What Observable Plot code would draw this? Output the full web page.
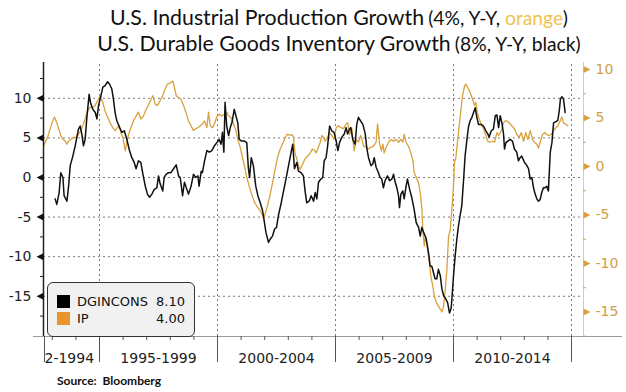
<!DOCTYPE html>
<html>
<head>
<meta charset="utf-8">
<script src="https://cdn.jsdelivr.net/npm/d3@7"></script>
<script src="https://cdn.jsdelivr.net/npm/@observablehq/plot@0.6"></script>
<style>
  html, body { margin: 0; padding: 0; background: #fff; }
  #wrap { position: relative; width: 626px; height: 392px; overflow: hidden; background: #fff; }
  .t { position: absolute; left: 52px; width: 574px; text-align: center; white-space: nowrap; font-family: Lato, "Open Sans", sans-serif; color: #111; height: 26px; line-height: 26px; }
  .big { font-size: 21.3px; }
  .small { font-size: 19.3px; }
  #plot { position: absolute; left: 0; top: 58px; }
  #legend { position: absolute; left: 47px; top: 282px; width: 146px; height: 53px; border: 1.5px solid #333; border-radius: 6px; background: #f1f1f1; font-family: "DejaVu Sans", sans-serif; font-size: 13px; color: #111; }
  .row { position: absolute; left: 0; width: 146px; height: 16px; line-height: 16px; }
  .sw { position: absolute; left: 9px; top: 1px; width: 13px; height: 13px; }
  .nm { position: absolute; left: 29px; }
  .vl { position: absolute; right: 9px; }
  #source { position: absolute; left: 57px; top: 373px; font-family: Lato, sans-serif; font-weight: bold; font-size: 12px; color: #111; white-space: pre; }
</style>
</head>
<body>
<div id="wrap">
  <div class="t" style="top:4px"><span class="big">U.S. Industrial Production Growth</span> <span class="small">(4%, Y-Y, <span style="color:#f2c24f">orange</span>)</span></div>
  <div class="t" style="top:30px"><span class="big">U.S. Durable Goods Inventory Growth</span> <span class="small">(8%, Y-Y, black)</span></div>
  <div id="plot"></div>
  <div id="legend">
    <div class="row" style="top:11px"><div class="sw" style="background:#000"></div><span class="nm">DGINCONS</span><span class="vl">8.10</span></div>
    <div class="row" style="top:28px"><div class="sw" style="background:#e8952c"></div><span class="nm">IP</span><span class="vl">4.00</span></div>
  </div>
  <div id="source">Source:  Bloomberg</div>
</div>
<script>
// ---- data (decimal years, % y/y) ----
const dgT = [1993.12,1993.19,1993.29,1993.36,1993.45,1993.50,1993.62,1993.69,1993.76,1993.87,1993.97,1994.04,1994.11,1994.18,1994.25,1994.32,1994.39,1994.46,1994.56,1994.63,1994.72,1994.82,1994.89,1994.96,1995.06,1995.14,1995.24,1995.34,1995.42,1995.52,1995.59,1995.66,1995.73,1995.85,1995.95,1996.05,1996.16,1996.27,1996.37,1996.47,1996.55,1996.65,1996.75,1996.84,1996.94,1997.03,1997.12,1997.22,1997.32,1997.43,1997.50,1997.57,1997.68,1997.74,1997.82,1997.92,1998.02,1998.14,1998.25,1998.35,
1998.42,1998.52,1998.60,1998.70,1998.77,1998.88,1998.98,1999.08,1999.17,1999.22,1999.31,1999.36,1999.45,1999.55,1999.65,1999.76,1999.87,1999.97,2000.07,2000.15,2000.21,2000.27,2000.32,2000.39,2000.47,2000.54,2000.61,2000.71,2000.78,2000.86,2000.92,2001.03,2001.14,2001.24,2001.31,2001.36,2001.43,2001.52,2001.62,2001.71,2001.81,2001.91,2001.99,2002.05,2002.16,2002.23,2002.33,2002.42,2002.50,2002.58,2002.70,2002.80,2002.90,2003.01,2003.12,2003.19,2003.26,2003.36,2003.43,2003.54,2003.64,2003.71,2003.78,2003.88,2003.97,2004.07,
2004.14,2004.21,2004.28,2004.38,2004.46,2004.52,2004.60,2004.66,2004.75,2004.84,2004.94,2005.03,2005.10,2005.17,2005.27,2005.37,2005.45,2005.51,2005.59,2005.65,2005.73,2005.83,2005.90,2005.97,2006.05,2006.16,2006.26,2006.33,2006.40,2006.50,2006.58,2006.64,2006.72,2006.82,2006.89,2006.96,2007.03,2007.10,2007.20,2007.29,2007.39,2007.46,2007.53,2007.60,2007.67,2007.71,2007.77,2007.85,2007.91,2007.99,2008.05,2008.14,2008.23,2008.33,2008.42,2008.52,2008.59,2008.66,2008.73,2008.84,2008.94,2009.01,2009.08,2009.15,2009.22,2009.29,2009.36,2009.44,2009.51,2009.58,2009.65,2009.75,2009.83,2009.90,
2009.93,2010.00,2010.07,2010.14,2010.21,2010.28,2010.35,2010.42,2010.49,2010.56,2010.64,2010.71,2010.78,2010.85,2010.92,2010.99,2011.06,2011.17,2011.27,2011.37,2011.45,2011.51,2011.60,2011.69,2011.77,2011.84,2011.91,2011.98,2012.05,2012.12,2012.16,2012.22,2012.30,2012.40,2012.50,2012.58,2012.68,2012.75,2012.82,2012.89,2013.01,2013.11,2013.18,2013.25,2013.32,2013.39,2013.46,2013.53,2013.60,2013.67,2013.74,2013.81,2013.88,2013.95,2014.02,2014.10,2014.17,2014.24,2014.31,2014.42,2014.48,2014.53,2014.59,2014.66,2014.73];
const dgV = [-2.7,-3.4,-1.9,0.6,0.0,-2.3,-3.0,-1.1,1.5,2.7,4.0,5.1,6.1,6.5,5.5,4.0,4.8,7.4,10.5,9.3,8.6,8.2,7.4,9.1,10.3,11.4,11.6,12.1,11.8,11.2,9.9,8.2,7.2,6.3,5.7,5.9,4.8,3.4,2.5,1.9,1.1,2.1,1.9,0.4,-1.1,-2.1,-2.5,-2.1,-1.5,-1.3,0.2,-0.8,-1.7,0.0,0.4,0.6,0.6,1.1,1.6,0.2,
0.0,-2.3,-0.6,-1.5,-2.1,-1.1,0.4,0.0,0.2,-1.1,0.8,0.6,2.1,3.4,3.2,3.4,4.0,4.4,4.8,4.2,5.7,3.2,9.5,6.5,5.3,6.3,6.9,8.6,7.8,6.9,4.8,4.6,4.6,4.4,1.1,0.0,2.5,1.5,-1.1,-2.3,-3.2,-4.2,-5.7,-6.9,-8.2,-7.8,-7.4,-6.5,-6.3,-4.8,-3.2,-1.7,-0.2,1.5,3.2,4.2,1.1,1.9,0.8,0.6,0.2,-1.7,-3.2,-3.0,-2.3,-3.0,
-1.9,-2.7,-0.6,-0.2,0.0,2.1,2.5,3.8,6.5,5.9,5.7,4.6,3.4,4.4,5.1,5.5,6.3,5.5,6.1,6.3,4.8,4.2,6.7,7.6,7.2,6.7,5.5,3.6,2.5,1.5,1.7,2.5,1.3,0.6,0.0,-0.2,-1.3,-0.4,0.2,-0.4,-0.2,0.4,-0.6,-1.3,-2.3,-3.8,-2.1,-1.7,-2.7,-1.1,-0.2,-1.5,-2.5,-4.0,-5.7,-6.3,-7.4,-6.3,-6.9,-7.7,-9.5,-11.2,-11.2,-12.0,-12.8,-12.8,-11.6,-12.4,-14.1,-14.9,-15.2,-15.8,-17.1,-16.5,
-15.4,-12.4,-9.9,-7.8,-6.1,-4.8,-3.6,-0.6,2.7,4.6,6.5,7.2,7.6,8.2,8.8,7.6,6.7,6.7,6.5,5.9,5.5,5.1,5.9,6.1,7.8,7.9,6.3,7.8,6.9,5.5,3.6,4.4,4.6,4.8,4.6,3.6,3.2,2.1,2.5,2.7,1.9,1.5,1.1,-0.2,0.0,-1.3,-2.1,-2.7,-3.0,-2.8,-1.9,-1.3,-1.3,-1.1,-1.7,3.2,4.4,6.9,7.0,7.2,8.4,9.9,10.2,9.9,8.2];

const ipT = [1992.63,1992.70,1992.80,1992.91,1993.02,1993.09,1993.19,1993.26,1993.36,1993.45,1993.55,1993.62,1993.69,1993.79,1993.90,1994.01,1994.11,1994.21,1994.29,1994.39,1994.49,1994.60,1994.72,1994.82,1994.92,1995.03,1995.14,1995.24,1995.34,1995.45,1995.56,1995.66,1995.76,1995.85,1995.90,1995.99,1996.09,1996.16,1996.23,1996.33,1996.44,1996.55,1996.65,1996.75,1996.86,1996.98,1997.08,1997.18,1997.26,1997.36,1997.46,1997.57,1997.68,1997.78,1997.88,1997.99,1998.11,1998.16,1998.25,1998.35,
1998.46,1998.56,1998.66,1998.77,1998.88,1998.98,1999.08,1999.17,1999.27,1999.36,1999.45,1999.55,1999.62,1999.69,1999.79,1999.87,1999.97,2000.07,2000.18,2000.30,2000.39,2000.47,2000.54,2000.61,2000.68,2000.78,2000.86,2000.96,2001.06,2001.14,2001.24,2001.34,2001.45,2001.57,2001.67,2001.76,2001.88,2001.95,2002.05,2002.13,2002.23,2002.33,2002.44,2002.56,2002.66,2002.75,2002.84,2002.94,2003.01,2003.08,2003.15,2003.22,2003.29,2003.36,2003.43,2003.50,2003.60,2003.71,2003.83,2003.93,2004.02,2004.14,
2004.18,2004.28,2004.35,2004.42,2004.49,2004.56,2004.66,2004.75,2004.84,2004.94,2005.03,2005.13,2005.23,2005.34,2005.45,2005.52,2005.59,2005.69,2005.79,2005.88,2005.97,2006.07,2006.19,2006.30,2006.40,2006.50,2006.61,2006.72,2006.78,2006.86,2006.94,2007.01,2007.06,2007.15,2007.25,2007.35,2007.46,2007.57,2007.67,2007.77,2007.85,2007.91,2007.99,2008.09,2008.19,2008.28,2008.33,2008.42,2008.52,2008.59,2008.66,2008.70,2008.76,2008.81,2008.90,2008.98,2009.04,2009.12,2009.18,2009.27,2009.36,2009.44,2009.51,2009.58,2009.65,2009.72,2009.79,2009.86,
2009.93,2010.00,2010.04,2010.10,2010.18,2010.24,2010.32,2010.38,2010.47,2010.52,2010.61,2010.71,2010.81,2010.89,2010.95,2011.00,2011.09,2011.17,2011.27,2011.37,2011.45,2011.55,2011.65,2011.74,2011.84,2011.91,2011.98,2012.05,2012.12,2012.19,2012.26,2012.36,2012.47,2012.58,2012.68,2012.78,2012.87,2012.97,2013.06,2013.15,2013.25,2013.35,2013.43,2013.53,2013.60,2013.67,2013.77,2013.86,2013.95,2014.02,2014.14,2014.24,2014.34,2014.42,2014.52,2014.59,2014.66,2014.73,2014.84];
const ipV = [2.1,2.5,3.0,3.9,4.7,5.1,4.5,4.0,3.2,2.8,2.6,2.3,2.6,2.8,3.0,3.0,3.3,3.7,4.2,4.9,5.7,6.1,6.1,6.3,6.8,7.3,6.6,5.7,5.1,4.5,4.0,3.7,4.0,4.2,3.5,3.0,1.6,2.5,3.3,4.0,4.7,5.2,5.6,4.9,5.2,5.9,6.4,6.9,7.3,6.4,6.3,6.8,7.3,8.0,8.5,8.6,8.8,8.3,7.3,7.1,
6.9,6.3,5.6,4.7,4.2,3.7,3.9,4.0,4.2,4.4,4.7,4.0,5.6,4.2,4.0,4.4,5.1,5.4,5.2,5.4,5.6,5.2,5.1,4.9,4.4,3.7,2.8,2.0,0.9,0.1,-1.1,-2.0,-2.9,-3.7,-4.1,-4.4,-4.9,-5.3,-4.7,-3.9,-2.9,-1.7,-0.3,1.1,1.8,2.3,2.8,3.3,3.3,3.2,3.3,3.0,1.3,0.8,0.1,-0.3,0.2,0.8,1.1,1.4,1.8,1.6,
1.4,2.0,2.5,3.2,3.0,2.6,3.0,3.5,3.2,2.8,4.0,4.2,4.0,3.9,4.4,4.5,3.3,3.9,1.6,2.8,2.5,3.2,2.1,2.0,1.8,2.0,2.1,2.5,4.4,2.5,1.6,2.3,1.4,2.0,2.5,2.8,2.6,2.8,2.5,2.8,2.5,3.3,2.5,2.1,1.4,0.6,-0.6,-1.1,-1.7,-2.7,-4.4,-6.5,-8.2,-7.2,-8.5,-9.9,-11.3,-12.3,-13.3,-14.0,-14.4,-14.7,-15.0,-14.4,-12.7,-10.6,-7.2,-6.6,
-4.4,-2.0,0.4,0.9,2.8,4.2,5.9,7.3,8.3,8.5,8.1,7.6,6.9,6.3,6.6,5.6,4.9,4.4,3.9,3.2,2.6,2.5,2.6,2.5,3.5,3.2,3.5,3.9,4.5,4.7,4.7,4.5,4.2,3.9,3.3,3.0,3.5,2.6,3.5,2.8,3.7,2.8,2.5,2.3,1.9,2.5,3.3,3.5,3.3,3.2,3.3,3.7,4.0,4.2,4.7,5.1,4.5,4.4,4.2];

const leftTicks = [-15, -10, -5, 0, 5, 10];
const rightTicks = [-15, -10, -5, 0, 5, 10];
const periodLabels = ["1995-1999", "2000-2004", "2005-2009", "2010-2014"];
const periodStarts = [1995, 2000, 2005, 2010];
const firstLabel = "2-1994";
const periodBounds = [1995, 2000, 2005, 2010, 2015];

// ---- layout ----
const W = 626, H = 334, mL = 43, mR = 43, mT = 4, mB = 56;
const xDomain = [1992.627, 2015.508];
const yDomain = [-20.08, 14.52];
const pxX = (W - mL - mR) / (xDomain[1] - xDomain[0]);   // px per year
const pxY = (H - mT - mB) / (yDomain[1] - yDomain[0]);   // px per unit
const xs = px => px / pxX, ys = px => px / pxY;
// right (IP) axis mapped onto the left scale
const ra = 1.389, rb = 1.2247;
const toLeft = v => ra + rb * v;

const dg = dgT.map((t, i) => ({t, v: dgV[i]}));
const ip = ipT.map((t, i) => ({t, v: ipV[i]}));

const gold = "#d9a13d";
const goldText = "#cf9f45";
const triLeft = {draw(c) { c.moveTo(-7, 0); c.lineTo(0, -3.5); c.lineTo(0, 3.5); c.closePath(); }};
const triRight = {draw(c) { c.moveTo(7, 0); c.lineTo(0, -3.5); c.lineTo(0, 3.5); c.closePath(); }};

const minorLeft = d3.range(-17.5, 14, 5);
const minorRight = d3.range(-17.5, 11, 5).map(toLeft);
const [x0, x1] = xDomain, [y0, y1] = yDomain;

const chart = Plot.plot({
  width: W,
  height: H,
  marginLeft: mL,
  marginRight: mR,
  marginTop: mT,
  marginBottom: mB,
  style: {fontFamily: "'DejaVu Sans', sans-serif", fontSize: "14px", background: "#fff", overflow: "visible"},
  x: {type: "linear", domain: xDomain, axis: null},
  y: {type: "linear", domain: yDomain, axis: null},
  marks: [
    // grid
    Plot.ruleY(leftTicks, {x1: x0, x2: x1, stroke: "#7a7a7a", strokeDasharray: "2,3", strokeWidth: 1}),
    Plot.ruleX(periodBounds, {y1: y0, y2: y1, stroke: "#7a7a7a", strokeDasharray: "2,3", strokeWidth: 1}),
    // bottom axis line, separators, year ticks
    Plot.ruleY([y0], {x1: x0 - xs(10), x2: x1 + xs(39), stroke: "#9a9a9a", strokeWidth: 1}),
    Plot.ruleX([x0 + xs(1), ...periodBounds], {y1: y0, y2: y0 - ys(26), stroke: "#555", strokeWidth: 1}),
    Plot.ruleX(d3.range(1993, 2016), {y1: y0, y2: y0 - ys(4), stroke: "#555", strokeWidth: 1}),
    Plot.text(periodLabels, {x: (d, i) => periodStarts[i] + 2.5, y: y0, dy: 22, fill: "#222", fontSize: 14}),
    Plot.text([firstLabel], {x: x0 + xs(1), y: y0, dy: 22, textAnchor: "start", fill: "#222", fontSize: 14}),
    // series
    Plot.line(ip, {x: "t", y: d => toLeft(d.v), stroke: gold, strokeWidth: 1.3}),
    Plot.line(dg, {x: "t", y: "v", stroke: "#111", strokeWidth: 1.5}),
    // left axis
    Plot.ruleX([x0], {y1: y0, y2: y1, stroke: "#222", strokeWidth: 1.5}),
    Plot.ruleY(minorLeft, {x1: x0 - xs(3), x2: x0, stroke: "#222", strokeWidth: 1}),
    Plot.dot(leftTicks, {x: x0, y: d => d, symbol: triLeft, fill: "#111", stroke: "none", r: 4}),
    Plot.text(leftTicks, {x: x0, y: d => d, dx: -12, textAnchor: "end", fill: "#222", fontSize: 14}),
    // right axis
    Plot.ruleX([x1], {y1: y0, y2: y1, stroke: "#e6ca8e", strokeWidth: 1}),
    Plot.ruleY(minorRight, {x1: x1, x2: x1 + xs(3), stroke: gold, strokeWidth: 1}),
    Plot.dot(rightTicks, {x: x1, y: d => toLeft(d), symbol: triRight, fill: gold, stroke: "none", r: 4}),
    Plot.text(rightTicks, {x: x1, y: d => toLeft(d), dx: 12, textAnchor: "start", fill: goldText, fontSize: 14})
  ]
});
document.getElementById("plot").appendChild(chart);
</script>
</body>
</html>
